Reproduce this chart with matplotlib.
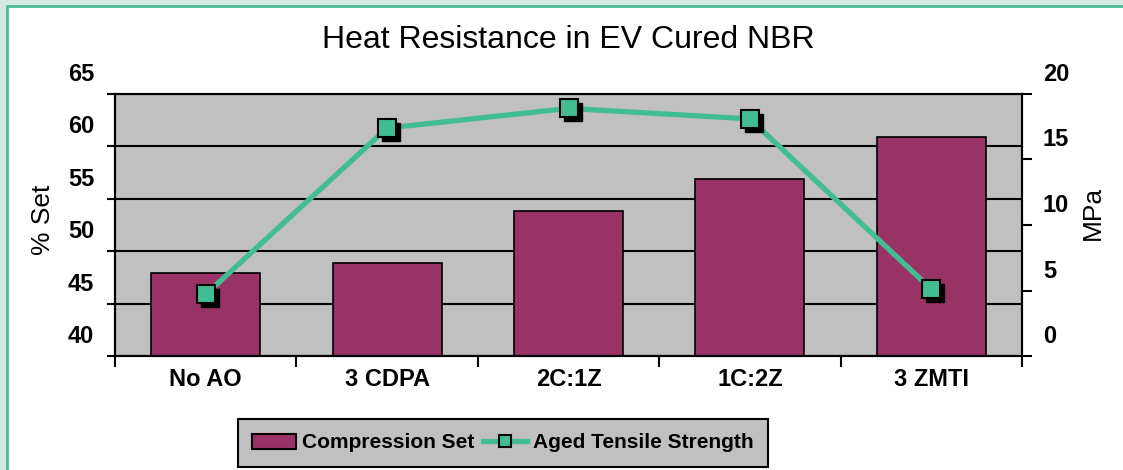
import matplotlib
matplotlib.use("Agg")
import matplotlib.pyplot as plt
import matplotlib.transforms as mtransforms
from matplotlib.patches import Rectangle, Patch
from matplotlib.lines import Line2D
import numpy as np

# data
categories = ["No AO", "3 CDPA", "2C:1Z", "1C:2Z", "3 ZMTI"]
compression_set = [47.9, 48.9, 53.8, 56.9, 60.9]
tensile_strength = [4.7, 17.4, 18.9, 18.1, 5.1]

left_ticks = [40, 45, 50, 55, 60, 65]
right_ticks = [0, 5, 10, 15, 20]

W, H = 1123, 470
plt.rcParams['font.family'] = ['Liberation Sans', 'DejaVu Sans']

fig = plt.figure(figsize=(W / 100, H / 100), dpi=100)
fig.patch.set_facecolor('#D4EAE0')
# white card with green edge
fig.patches.append(Rectangle((7 / W, -0.1), 1.2, (H - 6) / H + 0.1,
                             transform=fig.transFigure, facecolor='white',
                             edgecolor='#4DB894', linewidth=2, zorder=-10))

ax = fig.add_axes([115 / W, (H - 356) / H, 907 / W, 262 / H])
ax.set_facecolor('#C0C0C0')
x = np.arange(len(categories))
ax.bar(x, compression_set, width=0.6, color='#993366', edgecolor='black',
       linewidth=1.2, zorder=2)
ax.set_xlim(-0.5, len(categories) - 0.5)
ax.set_ylim(40, 65)
ax.set_yticks(left_ticks)
ax.set_axisbelow(True)
ax.yaxis.grid(True, color='black', linewidth=1.5)
for s in ax.spines.values():
    s.set_linewidth(1.5)

ax.set_xticks(x)
ax.set_xticklabels(categories, fontsize=17, fontweight='bold')
ax.set_xticks(np.arange(-0.5, len(categories)), minor=True)
ax.tick_params(axis='x', which='major', length=0, pad=9)
ax.tick_params(axis='x', which='minor', length=8, width=1.5, direction='out')
ax.tick_params(axis='y', length=6, width=1.5, pad=9, labelsize=17)
for lab in ax.get_yticklabels():
    lab.set_fontweight('bold')

# tick labels in the original sit above their ticks
shift = mtransforms.ScaledTranslation(0, 22 / 100, fig.dpi_scale_trans)
for lab in ax.get_yticklabels():
    lab.set_transform(lab.get_transform() + shift)

ax2 = ax.twinx()
ax2.set_ylim(0, 20)
ax2.set_yticks(right_ticks)
ax2.tick_params(axis='y', length=7, width=1.5, pad=8, labelsize=17)
for lab in ax2.get_yticklabels():
    lab.set_fontweight('bold')
    lab.set_transform(lab.get_transform() + shift)
for s in ax2.spines.values():
    s.set_linewidth(1.5)

fig.text(43 / W, 1 - 220 / H, '% Set', fontsize=19, rotation=90,
         ha='center', va='center')
fig.text(1093 / W, 1 - 213 / H, 'MPa', fontsize=19, rotation=90,
         ha='center', va='center')

green = '#42BD92'
ax2.plot(x, tensile_strength, color=green, linewidth=3.8, zorder=3)
shadow = ax2.transData + mtransforms.ScaledTranslation(4 / 100, -4 / 100, fig.dpi_scale_trans)
ax2.plot(x, tensile_strength, linestyle='none', marker='s', markersize=13,
         color='black', transform=shadow, zorder=4)
ax2.plot(x, tensile_strength, linestyle='none', marker='s', markersize=13,
         markerfacecolor=green, markeredgecolor='black', markeredgewidth=1.5,
         zorder=5)

fig.text(568 / W, 1 - 40 / H, 'Heat Resistance in EV Cured NBR',
         fontsize=23, ha='center', va='center')

handles = [Patch(facecolor='#993366', edgecolor='black', linewidth=1.5),
           Line2D([], [], color=green, linewidth=3.8, marker='s', markersize=9,
                  markerfacecolor=green, markeredgecolor='black', markeredgewidth=1.5)]
leg = fig.legend(handles, ['Compression Set', 'Aged Tensile Strength'],
                 loc='center', bbox_to_anchor=(503 / W, 1 - 443 / H), ncol=2,
                 fancybox=False, framealpha=1, facecolor='#C0C0C0',
                 edgecolor='black', prop={'weight': 'bold', 'size': 15},
                 handlelength=2.1, handletextpad=0.3, columnspacing=0.4,
                 borderpad=0.7)
leg.get_frame().set_linewidth(1.5)

fig.savefig('out.png', dpi=100, facecolor=fig.get_facecolor())
